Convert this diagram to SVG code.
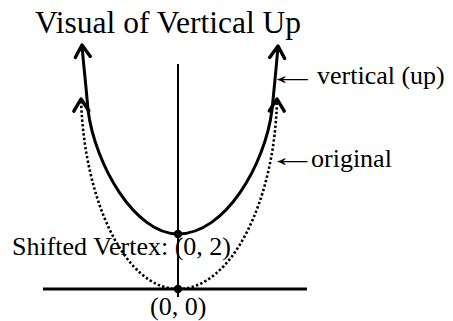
<svg xmlns="http://www.w3.org/2000/svg" width="453" height="321" viewBox="0 0 453 321">
  <style>
    text { font-family: "Liberation Serif", "DejaVu Serif", serif; fill: #000; }
    .lbl { font-size: 26px; }
    .title { font-size: 31.5px; }
    .axis { stroke: #000; fill: none; }
    .curve { stroke: #000; stroke-width: 3; fill: none; }
    .dotted { stroke: #000; stroke-width: 2.6; fill: none; stroke-dasharray: 2.4 2.2; }
  </style>
  <defs>
    <marker id="chev" markerUnits="userSpaceOnUse" viewBox="-18 -12 22 24" markerWidth="22" markerHeight="24" refX="0" refY="0" orient="auto">
      <path d="M -12 -7.5 L 0 0 L -12 7.5" fill="none" stroke="#000" stroke-width="3.4" stroke-linecap="round" stroke-linejoin="round"/>
    </marker>
  </defs>

  <g id="title">
    <text class="title" x="35" y="33">Visual of Vertical Up</text>
  </g>

  <g id="axes">
    <line class="axis" x1="178" y1="64" x2="178" y2="297" stroke-width="2"/>
    <line class="axis" x1="43" y1="289" x2="307" y2="289" stroke-width="2.8"/>
  </g>

  <g id="connectors">
    <g id="original-curve">
      <path class="dotted" d="M 178 289 C 125 289 84 200 81 99" marker-end="url(#chev)"/>
      <path class="dotted" d="M 178 289 C 232 289 275 200 277 99" marker-end="url(#chev)"/>
    </g>
    <g id="vertical-up-curve">
      <path class="curve" d="M 178 234 C 135 234 95 165 88 110 C 86 85 83 60 82 45" marker-end="url(#chev)"/>
      <path class="curve" d="M 178 234 C 225 234 265 165 272 110 C 275 80 277 60 278 46" marker-end="url(#chev)"/>
    </g>
  </g>

  <g id="vertex-shifted">
    <circle cx="178" cy="234" r="4.2" fill="#000"/>
    <text class="lbl" x="12" y="255">Shifted Vertex: (0, 2)</text>
  </g>

  <g id="vertex-origin">
    <circle cx="178" cy="289" r="4.2" fill="#000"/>
    <text class="lbl" x="150" y="315">(0, 0)</text>
  </g>

  <g id="label-vertical">
    <text class="lbl" transform="translate(267 84) scale(2 1)">←</text>
    <text class="lbl" x="317" y="84">vertical (up)</text>
  </g>

  <g id="label-original">
    <text class="lbl" transform="translate(267.5 166) scale(1.95 1)">←</text>
    <text class="lbl" x="311" y="167">original</text>
  </g>
</svg>
